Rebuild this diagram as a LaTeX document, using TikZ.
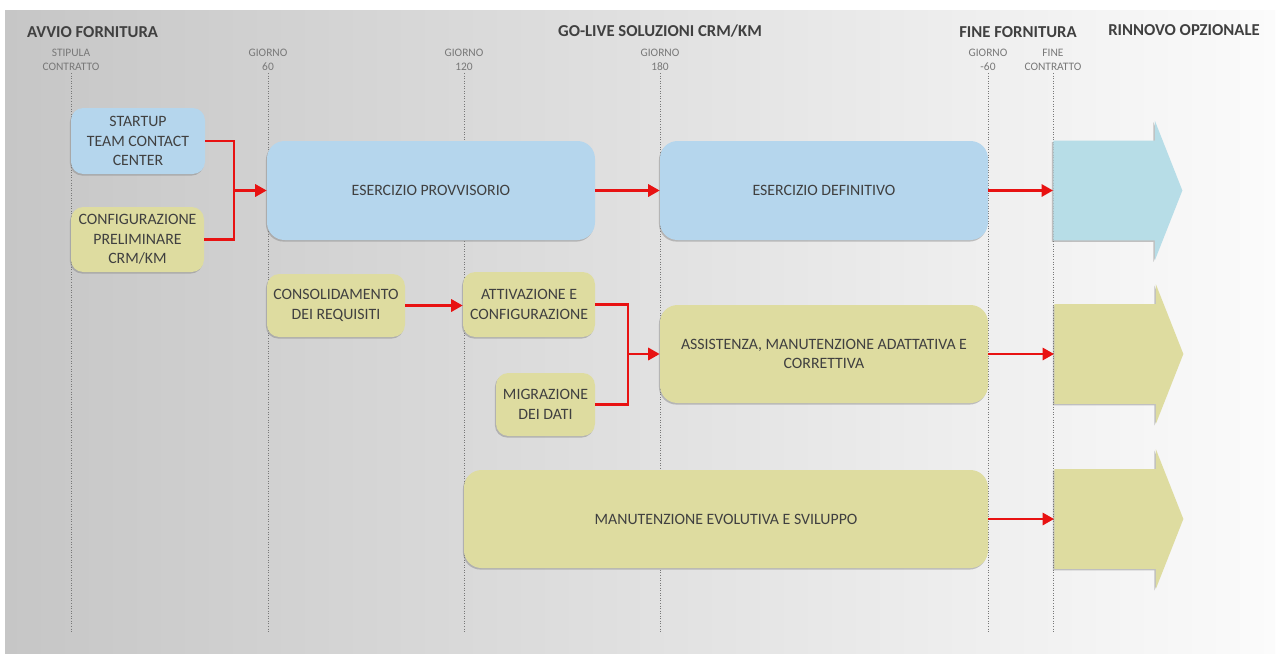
\documentclass[tikz,border=0pt]{standalone}
\usepackage{fontspec}
\setmainfont{Carlito}
\usetikzlibrary{positioning, arrows.meta, shapes.arrows, shadows}
\definecolor{boxblue}{RGB}{181,214,237}
\definecolor{arrowblue}{RGB}{183,221,231}
\definecolor{boxyellow}{RGB}{222,220,160}
\definecolor{flowred}{RGB}{232,18,18}
\definecolor{textgray}{RGB}{64,64,64}
\definecolor{labelgray}{RGB}{120,120,120}
\definecolor{bgleft}{RGB}{198,198,198}
\definecolor{bgright}{RGB}{251,251,251}
\tikzset{
x=0.2mm, y=-0.2mm, % one unit is one pixel of the original slide
>={Triangle[length=6.5pt, width=7pt]}, % filled red arrow heads
phase/.style 2 args={rectangle, rounded corners=7pt, minimum width=#1*0.2mm, minimum height=#2*0.2mm, inner sep=2pt, align=center, text=textgray, font=\fontsize{9}{11}\selectfont, drop shadow={shadow xshift=-0.6pt, shadow yshift=-0.9pt, opacity=0.45}}, % activity boxes
bigphase/.style 2 args={phase={#1}{#2}, rounded corners=10pt}, % the long activities
rinnovo/.style={single arrow, minimum height=129*0.2mm, single arrow head extend=20*0.2mm, single arrow tip angle=137, anchor=tail, inner xsep=0pt, inner ysep=9.9mm, drop shadow={shadow xshift=-0.8pt, shadow yshift=-0.9pt, opacity=0.45}}, % optional renewal
title/.style={font=\bfseries\fontsize{9.5}{11}\selectfont, text=textgray, inner sep=1pt}, % phase headers
milestone/.style={font=\fontsize{6.5}{8}\selectfont, text=labelgray, align=center, inner sep=1pt}, % day labels
tick/.style={densely dotted, labelgray, line width=0.45pt}, % vertical day lines
flow/.style={flowred, line width=1.3pt} % red connectors
}

\begin{document}
\begin{tikzpicture}
\useasboundingbox[fill=white] (0,0) rectangle (1280,660);
\shade[left color=bgleft, right color=bgright] (5,10) rectangle (1275,653);

% headers
\node[title, anchor=west] (avvio) at (25,32) {AVVIO FORNITURA};
\node[title] (golive) at (660,31) {GO-LIVE SOLUZIONI CRM/KM};
\node[title] (fine) at (1018,32) {FINE FORNITURA};
\node[title] (rinn) at (1184,30) {RINNOVO OPZIONALE};

% day lines
\foreach \x/\n/\t in {71/d0/{STIPULA\\CONTRATTO}, 268/d60/{GIORNO\\60}, 464/d120/{GIORNO\\120}, 660/d180/{GIORNO\\180}, 988/dm60/{GIORNO\\-60}, 1053/dend/{FINE\\CONTRATTO}}{
  \node[milestone, anchor=south] (\n) at (\x,73) {\t};
  \draw[tick] (\n.south) -- (\n.south |- 0,633);
}

% activities
\node[phase={134}{66}, fill=boxblue] (startup) at (138,141) {STARTUP\\TEAM CONTACT\\CENTER};
\node[phase={133}{65}, fill=boxyellow] (config) at (137.5,239.5) {CONFIGURAZIONE\\PRELIMINARE\\CRM/KM};
\node[bigphase={328}{99}, fill=boxblue] (provv) at (431,190.5) {ESERCIZIO PROVVISORIO};
\node[bigphase={328}{99}, fill=boxblue] (defin) at (824,190.5) {ESERCIZIO DEFINITIVO};
\node[phase={138}{63}, fill=boxyellow] (consol) at (336,305.5) {CONSOLIDAMENTO\\DEI REQUISITI};
\node[phase={132}{65}, fill=boxyellow] (attiv) at (529,304.5) {ATTIVAZIONE E\\CONFIGURAZIONE};
\node[phase={99}{63}, fill=boxyellow] (migr) at (545.5,404.5) {MIGRAZIONE\\DEI DATI};
\node[bigphase={328}{98}, fill=boxyellow] (assist) at (824,354) {ASSISTENZA, MANUTENZIONE ADATTATIVA E\\CORRETTIVA};
\node[bigphase={524}{98}, fill=boxyellow] (evol) at (726,519) {MANUTENZIONE EVOLUTIVA E SVILUPPO};

% renewal arrows
\node[rinnovo, fill=arrowblue] (r1) at (1053,190.5) {};
\node[rinnovo, fill=boxyellow] (r2) at (1054,354) {};
\node[rinnovo, fill=boxyellow] (r3) at (1054,519) {};

% connectors
\coordinate (j1) at (234,190.5);
\coordinate (j2) at (628,354);
\draw[flow] (startup.east) -| (j1);
\draw[flow] (config.east) -| (j1);
\draw[flow, ->] (j1) -- (provv.west);
\draw[flow, ->] (provv.east) -- (defin.west);
\draw[flow, ->] (defin.east) -- (r1.tail);
\draw[flow, ->] (consol.east) -- (consol.east -| attiv.west);
\draw[flow] (attiv.east) -| (j2);
\draw[flow] (migr.east) -| (j2);
\draw[flow, ->] (j2) -- (assist.west);
\draw[flow, ->] (assist.east) -- (r2.tail);
\draw[flow, ->] (evol.east) -- (r3.tail);
\end{tikzpicture}
\end{document}
